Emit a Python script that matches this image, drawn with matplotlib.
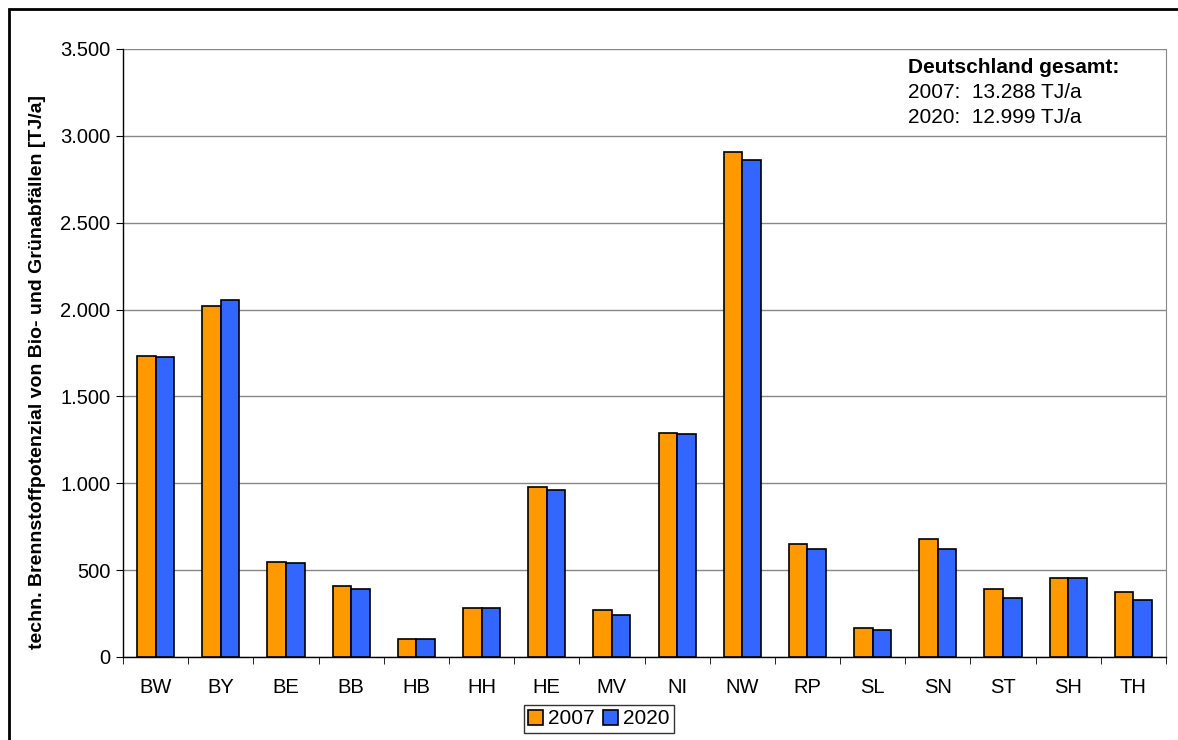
import matplotlib.pyplot as plt
import numpy as np
from matplotlib.patches import Rectangle

plt.rcParams['font.family'] = ['Liberation Sans', 'DejaVu Sans']

laender = ['BW', 'BY', 'BE', 'BB', 'HB', 'HH', 'HE', 'MV',
           'NI', 'NW', 'RP', 'SL', 'SN', 'ST', 'SH', 'TH']
werte_2007 = [1732, 2020, 547, 411, 106, 282, 978, 270,
              1289, 2906, 652, 167, 679, 391, 457, 372]
werte_2020 = [1726, 2054, 541, 390, 104, 280, 963, 242,
              1283, 2862, 621, 158, 624, 340, 453, 330]
yticks = [0, 500, 1000, 1500, 2000, 2500, 3000, 3500]
ytick_labels = ['0', '500', '1.000', '1.500', '2.000', '2.500', '3.000', '3.500']

fig = plt.figure(figsize=(11.78, 7.40), dpi=100)
ax = fig.add_axes([123 / 1178, 1 - 657 / 740, 1043 / 1178, 608 / 740])

x = np.arange(len(laender))
w = 0.285
ax.bar(x - w / 2, werte_2007, w, color='#ff9900', edgecolor='black', linewidth=1.2,
       label='2007', zorder=3)
ax.bar(x + w / 2, werte_2020, w, color='#3366ff', edgecolor='black', linewidth=1.2,
       label='2020', zorder=3)

ax.set_xlim(-0.5, len(laender) - 0.5)
ax.set_ylim(0, 3500)
ax.set_yticks(yticks)
ax.set_yticklabels(ytick_labels, fontsize=14.5)
ax.yaxis.grid(True, color='#888888', linewidth=1.0, zorder=0)

# category labels centred, separator ticks at the boundaries
ax.set_xticks(x)
ax.set_xticklabels(laender, fontsize=14.5)
ax.tick_params(axis='x', which='major', length=0, pad=15)
ax.set_xticks(np.arange(-0.5, len(laender)), minor=True)
ax.tick_params(axis='x', which='minor', length=5, direction='out', color='black')
ax.tick_params(axis='y', length=5, direction='out', pad=4)

ax.spines['top'].set_visible(False)
ax.spines['right'].set_color('#888888')
ax.spines['left'].set_linewidth(1.0)
ax.spines['bottom'].set_linewidth(1.0)

fig.text(38 / 1178, 1 - 372 / 740,
         'techn. Brennstoffpotenzial von Bio- und Grünabfällen [TJ/a]',
         fontsize=14, fontweight='bold', rotation=90, ha='center', va='center')

fig.text(908 / 1178, 1 - 73 / 740, 'Deutschland gesamt:', fontsize=15,
         fontweight='bold', va='baseline')
fig.text(908 / 1178, 1 - 98 / 740, '2007:  13.288 TJ/a', fontsize=15, va='baseline')
fig.text(908 / 1178, 1 - 123 / 740, '2020:  12.999 TJ/a', fontsize=15, va='baseline')

leg = ax.legend(loc='center', bbox_to_anchor=(599 / 1178, 1 - 719 / 740),
                bbox_transform=fig.transFigure, ncol=2, fontsize=15,
                frameon=True, fancybox=False, edgecolor='black',
                handlelength=0.7, handleheight=0.7, handletextpad=0.25,
                columnspacing=0.4, borderpad=0.2, borderaxespad=0)
leg.get_frame().set_linewidth(1.0)

# outer chart frame
fig.patches.append(Rectangle((9 / 1178, -0.05), 1.1, 1 - 9 / 740 + 0.05,
                             transform=fig.transFigure, fill=False,
                             edgecolor='black', linewidth=2))

fig.savefig('out.png', dpi=100)
